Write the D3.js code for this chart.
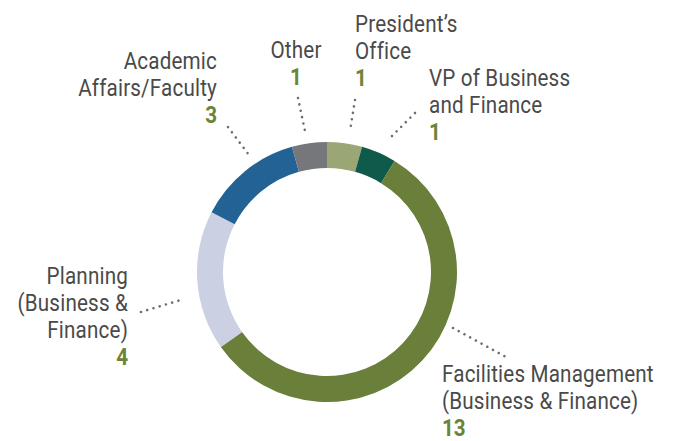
<!DOCTYPE html>
<html>
<head>
<meta charset="utf-8">
<script src="https://cdn.jsdelivr.net/npm/d3@7"></script>
<style>
  body { margin: 0; background: #fff; }
  .lbl { font-family: "Roboto", "Liberation Sans", sans-serif; font-size: 24px; fill: #4a4a4a; letter-spacing: 0.2px; }
  .num { font-family: "Roboto", "Liberation Sans", sans-serif; font-size: 24px; font-weight: bold; fill: #6b843a; }
</style>
</head>
<body>
<div id="chart"></div>
<script>
// Data
var categories = ["President\u2019s Office", "VP of Business and Finance", "Facilities Management (Business & Finance)",
                  "Planning (Business & Finance)", "Academic Affairs/Faculty", "Other"];
var counts = [1, 1, 13, 4, 3, 1];
var labelLines = [
  ["President\u2019s", "Office"],
  ["VP of Business", "and Finance"],
  ["Facilities Management", "(Business & Finance)"],
  ["Planning", "(Business &", "Finance)"],
  ["Academic", "Affairs/Faculty"],
  ["Other"]
];
var colors = ["#9aa673", "#0f5a4a", "#697f3a", "#cbd1e2", "#236295", "#76777b"];

// Layout (label anchor, leader line ends)
var layout = [
  { x: 355, y: 32, anchor: "start", leader: [[355, 100], [350, 131]] },
  { x: 429, y: 86, anchor: "start", leader: [[415, 113], [388, 140]] },
  { x: 442, y: 382, anchor: "start", leader: [[453, 328], [506, 357]] },
  { x: 128, y: 284, anchor: "end", leader: [[141, 312], [184, 299]] },
  { x: 217, y: 69, anchor: "end", leader: [[228, 127], [249, 155]] },
  { x: 296, y: 58, anchor: "middle", leader: [[298, 98], [305, 131]] }
];

var svgWidth = 673;
var svgHeight = 441;
var cx = 327, cy = 272;
var outerR = 130, innerR = 104;
var lineH = 27;
var squeeze = 0.86;

var svg = d3.select("#chart")
  .append("svg")
  .attr("width", svgWidth)
  .attr("height", svgHeight);

var pie = d3.pie().sort(null).value(d => d);
var arc = d3.arc().innerRadius(innerR).outerRadius(outerR);

var ring = svg.append("g")
  .attr("transform", `translate(${cx}, ${cy})`);

ring.selectAll("path")
  .data(pie(counts))
  .enter()
  .append("path")
  .attr("d", arc)
  .attr("fill", (d, i) => colors[i]);

// dotted leaders
svg.selectAll(".leader")
  .data(layout)
  .enter()
  .append("line")
  .attr("class", "leader")
  .attr("x1", d => d.leader[0][0])
  .attr("y1", d => d.leader[0][1])
  .attr("x2", d => d.leader[1][0])
  .attr("y2", d => d.leader[1][1])
  .attr("stroke", "#6d6d6d")
  .attr("stroke-width", 2.6)
  .attr("stroke-linecap", "round")
  .attr("stroke-dasharray", "0.01 6.5");

// labels
var labels = svg.selectAll(".labelGroup")
  .data(categories)
  .enter()
  .append("g")
  .attr("class", "labelGroup");

labels.each(function(c, i) {
  var g = d3.select(this);
  var L = layout[i];
  labelLines[i].forEach(function(t, k) {
    g.append("text")
      .attr("class", "lbl")
      .attr("transform", `translate(${L.x}, ${L.y + k * lineH}) scale(${squeeze}, 1)`)
      .attr("text-anchor", L.anchor)
      .text(t);
  });
  g.append("text")
    .attr("class", "num")
    .attr("transform", `translate(${L.x}, ${L.y + labelLines[i].length * lineH}) scale(${squeeze}, 1)`)
    .attr("text-anchor", L.anchor)
    .text(counts[i]);
});
</script>
</body>
</html>
